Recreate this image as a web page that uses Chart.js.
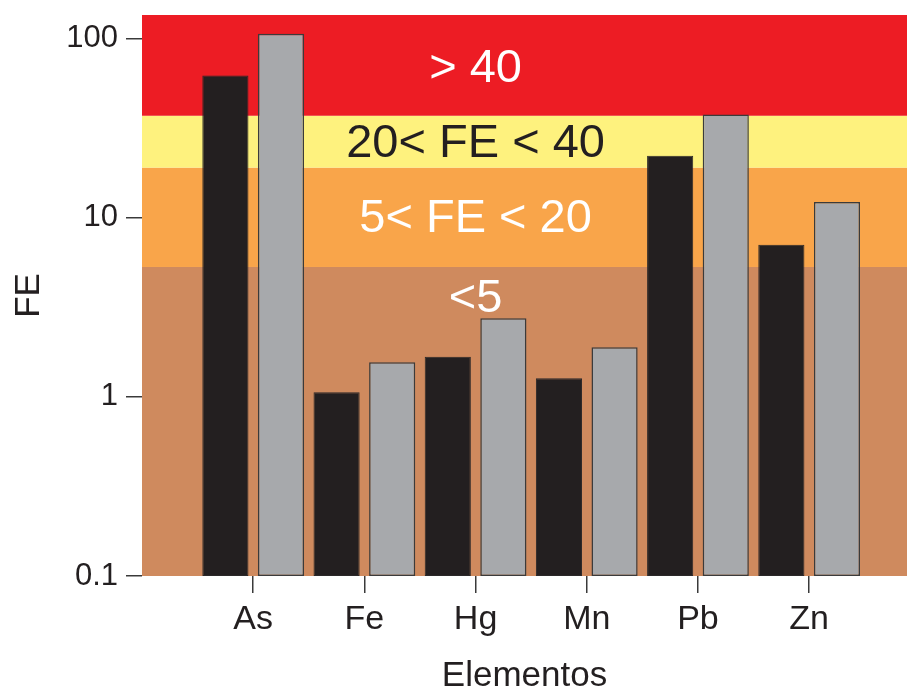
<!DOCTYPE html>
<html>
<head>
<meta charset="utf-8">
<title>FE por elemento</title>
<script src="https://cdn.jsdelivr.net/npm/chart.js@4/dist/chart.umd.min.js"></script>
<style>
  html, body { margin: 0; padding: 0; background: #ffffff; }
  #wrap { width: 907px; height: 691px; }
</style>
</head>
<body>
<div id="wrap"><canvas id="fe" width="907" height="691"></canvas></div>
<script>
// Elements on the x axis
const elementos = ['As', 'Fe', 'Hg', 'Mn', 'Pb', 'Zn'];
// Enrichment factor, first series (black bars)
const feSerie1 = [62, 1.06, 1.67, 1.27, 22.1, 7.06];
// Enrichment factor, second series (grey bars)
const feSerie2 = [106, 1.56, 2.74, 1.89, 37.6, 12.2];
// Log axis ticks
const yTicks = [0.1, 1, 10, 100];
// Class limits of the coloured bands (bottom to top)
const bandEdges = [0.1, 5.3, 19, 37, 135];
// Class names written inside the bands (bottom to top)
const bandLabels = ['<5', '5< FE < 20', '20< FE < 40', '> 40'];
// Where each class name sits on the FE axis
const bandLabelFE = [3.5, 9.75, 25.7, 67];

const FONT = '"Liberation Sans", Arial, Helvetica, sans-serif';
const INK = '#231F20';
const bandColors = ['#CF8A5E', '#F9A54A', '#FEF27E', '#ED1C24'];
const bandTextColors = ['#FFFFFF', '#FFFFFF', INK, '#FFFFFF'];

// Coloured FE classes painted behind the bars
const classBands = {
  id: 'classBands',
  beforeDatasetsDraw(chart) {
    const { ctx, chartArea: a, scales: { x, y } } = chart;
    ctx.save();
    for (let i = 0; i < bandColors.length; i++) {
      const yLow = Math.min(y.getPixelForValue(bandEdges[i]), a.bottom);
      const yHigh = Math.max(y.getPixelForValue(bandEdges[i + 1]), a.top);
      ctx.fillStyle = bandColors[i];
      ctx.fillRect(a.left, yHigh, a.right - a.left, yLow - yHigh);
    }
    ctx.font = '47px ' + FONT;
    ctx.textAlign = 'center';
    ctx.textBaseline = 'middle';
    const cx = x.getPixelForValue(2);
    for (let i = 0; i < bandLabels.length; i++) {
      ctx.fillStyle = bandTextColors[i];
      ctx.fillText(bandLabels[i], cx, y.getPixelForValue(bandLabelFE[i]));
    }
    ctx.restore();
  }
};

const tickGrid = {
  display: true,
  drawOnChartArea: false,
  drawTicks: true,
  color: '#3a3a3a',
  lineWidth: 1.5,
  offset: false
};

new Chart(document.getElementById('fe'), {
  type: 'bar',
  data: {
    datasets: [
      {
        label: 'Serie 1',
        data: elementos.map((e, i) => ({ x: i, y: feSerie1[i] })),
        backgroundColor: INK,
        borderColor: '#2b2829',
        borderWidth: 1,
        borderSkipped: false
      },
      {
        label: 'Serie 2',
        data: elementos.map((e, i) => ({ x: i, y: feSerie2[i] })),
        backgroundColor: '#A7A9AC',
        borderColor: '#3b3b3b',
        borderWidth: 1.5,
        borderSkipped: false
      }
    ]
  },
  options: {
    responsive: false,
    animation: false,
    devicePixelRatio: 1,
    categoryPercentage: 1.0,
    barPercentage: 0.83,
    layout: { padding: { top: 15, left: 0, right: 0, bottom: 0 } },
    plugins: {
      legend: { display: false },
      tooltip: { enabled: false }
    },
    scales: {
      x: {
        type: 'linear',
        min: -1,
        max: 5.88,
        bounds: 'data',
        offset: false,
        grid: Object.assign({}, tickGrid, { tickLength: 17 }),
        border: { display: false },
        afterBuildTicks(scale) {
          scale.ticks = elementos.map((e, i) => ({ value: i }));
        },
        afterFit(scale) {
          scale.height = 115;
          scale.paddingLeft = 0;
          scale.paddingRight = 0;
        },
        ticks: {
          autoSkip: false,
          maxRotation: 0,
          padding: 6,
          color: INK,
          font: { family: FONT, size: 34 },
          callback: (v) => elementos[v]
        },
        title: {
          display: true,
          text: 'Elementos',
          color: INK,
          font: { family: FONT, size: 35 },
          padding: { top: 0, bottom: -6.5 }
        }
      },
      y: {
        type: 'logarithmic',
        min: 0.1,
        max: 135,
        grid: Object.assign({}, tickGrid, { tickLength: 16 }),
        border: { display: false },
        afterBuildTicks(scale) {
          scale.ticks = yTicks.map((v) => ({ value: v }));
        },
        afterFit(scale) {
          scale.width = 142;
          scale.paddingTop = 0;
          scale.paddingBottom = 0;
        },
        ticks: {
          padding: 8,
          color: INK,
          font: { family: FONT, size: 31 },
          callback: (v) => String(v)
        },
        title: {
          display: true,
          text: 'FE',
          color: INK,
          font: { family: FONT, size: 35 },
          padding: { top: 8, bottom: 0 }
        }
      }
    }
  },
  plugins: [classBands]
});
</script>
</body>
</html>
